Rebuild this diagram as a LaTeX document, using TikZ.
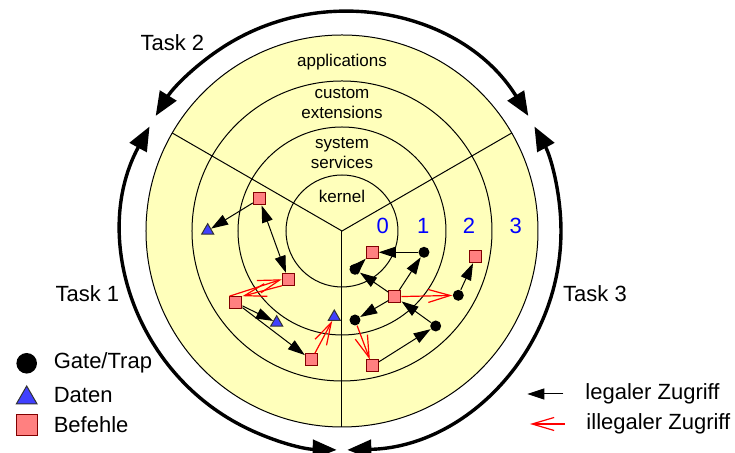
\documentclass[tikz,border=0pt]{standalone}
\usepackage{fontspec}
\setmainfont{Liberation Sans}
\usetikzlibrary{shapes,arrows.meta}
\definecolor{gelb}{RGB}{255,255,187}
\definecolor{rosa}{RGB}{255,128,128}
\definecolor{dunkelrot}{RGB}{128,0,0}
\definecolor{blau}{RGB}{64,64,255}
\tikzstyle{bef} = [rectangle, minimum size=6pt, inner sep=0pt, fill=rosa, draw=dunkelrot]
\tikzstyle{dat} = [regular polygon, regular polygon sides=3, minimum size=7pt, inner sep=0pt, fill=blau, draw=black!80]
\tikzstyle{gat} = [circle, minimum size=5.5pt, inner sep=0pt, fill=black]
\tikzstyle{ill} = [red, line width=0.6pt, -{Straight Barb[length=11pt,width=6.5pt]}]
\tikzstyle{task} = [line width=1.7pt, {Triangle[length=12pt,width=9.5pt]}-{Triangle[length=12pt,width=9.5pt]}]
\tikzstyle{ring} = [font=\fontsize{8.5}{10}\selectfont, align=center]
\tikzstyle{nr} = [text=blue, font=\fontsize{11}{13}\selectfont]
\tikzstyle{lab} = [font=\fontsize{11}{13}\selectfont, inner sep=0pt]

\begin{document}
\begin{tikzpicture}[x=0.5pt,y=0.5pt,line width=0.5pt,>={Triangle[length=8.5pt,width=5.5pt]}]
\useasboundingbox (-342,-222) rectangle (393,231);
% Ringe
\fill[gelb] (0,0) circle (196);
\foreach \r in {56,104,150,196}
	\draw (0,0) circle (\r);
\draw (150:196) -- (0,0) -- (30:196);
\draw (0,0) -- (270:196);
\node[ring](app) at (0,169) {applications};
\node[ring](cust) at (0,128) {custom\\extensions};
\node[ring](sys) at (0,78) {system\\services};
\node[ring](kern) at (0,35) {kernel};
\node[nr](n0) at (40.7,5) {0};
\node[nr](n1) at (81.3,5) {1};
\node[nr](n2) at (127,5) {2};
\node[nr](n3) at (173.7,5) {3};

% Tasks
\draw[task] (31.7:219) arc (31.7:148.3:219);
\draw[task] (151.5:219) arc (151.5:268.6:219);
\draw[task] (271.4:219) arc (271.4:388.5:219);
\node[lab](t2) at (-169.7,188.3) {Task 2};
\node[lab](t1) at (-254.7,-62.3) {Task 1};
\node[lab](t3) at (253,-62.3) {Task 3};

% Befehle, Daten, Gates
\node[bef](b1) at (-82.7,32) {};
\node[bef](b2) at (-53.7,-48.3) {};
\node[bef](b3) at (-106,-71.7) {};
\node[bef](b4) at (-30.7,-129) {};
\node[bef](b5) at (30.3,-21.3) {};
\node[bef](b6) at (53,-65.7) {};
\node[bef](b7) at (134,-25.7) {};
\node[bef](b8) at (30.3,-135) {};
\node[dat](d1) at (-134.3,0.3) {};
\node[dat](d2) at (-65.3,-91.7) {};
\node[dat](d3) at (-7.7,-86) {};
\node[gat](g1) at (82,-21.3) {};
\node[gat](g2) at (13,-38.3) {};
\node[gat](g3) at (116.3,-64.3) {};
\node[gat](g4) at (13,-89) {};
\node[gat](g5) at (93.7,-95) {};

\draw[->] (b1) -- (d1);
\draw[<->] (b1) -- (b2);
\draw[->] (b3) -- (d2);
\draw[->] (b3) -- (b4);
\draw[->] (g1) -- (b5);
\draw[->] (g2) -- (b5);
\draw[->] (b6) -- (g2);
\draw[->] (b6) -- (g1);
\draw[->] (b6) -- (g4);
\draw[->] (g5) -- (b6);
\draw[->] (g3) -- (b7);
\draw[->] (b8) -- (g5);

\draw[ill] (b3.north west) -- (b2.west);
\draw[ill] (b2.south west) -- (b3.north east);
\draw[ill] (b4) -- (d3);
\draw[ill] (g4) -- (b8);
\draw[ill] (b6) -- (g3);

% Legende
\node[gat, minimum size=10.3pt](lg) at (-315.3,-132.3) {};
\node[dat, minimum size=12pt](ld) at (-315.3,-167) {};
\node[bef, minimum size=10.5pt](lb) at (-315.3,-194) {};
\node[lab, anchor=west](lgt) at (-288.7,-132.3) {Gate/Trap};
\node[lab, anchor=west](ldt) at (-288.7,-164) {Daten};
\node[lab, anchor=west](lbt) at (-288.7,-194) {Befehle};
\coordinate (la1) at (221.3,-163);
\coordinate (la2) at (185.3,-163);
\coordinate (li1) at (223,-193);
\coordinate (li2) at (188,-193);
\draw[->] (la1) -- (la2);
\draw[ill] (li1) -- (li2);
\node[lab, anchor=west](lat) at (243,-163) {legaler Zugriff};
\node[lab, anchor=west](lit) at (244,-193) {illegaler Zugriff};
\end{tikzpicture}
\end{document}
